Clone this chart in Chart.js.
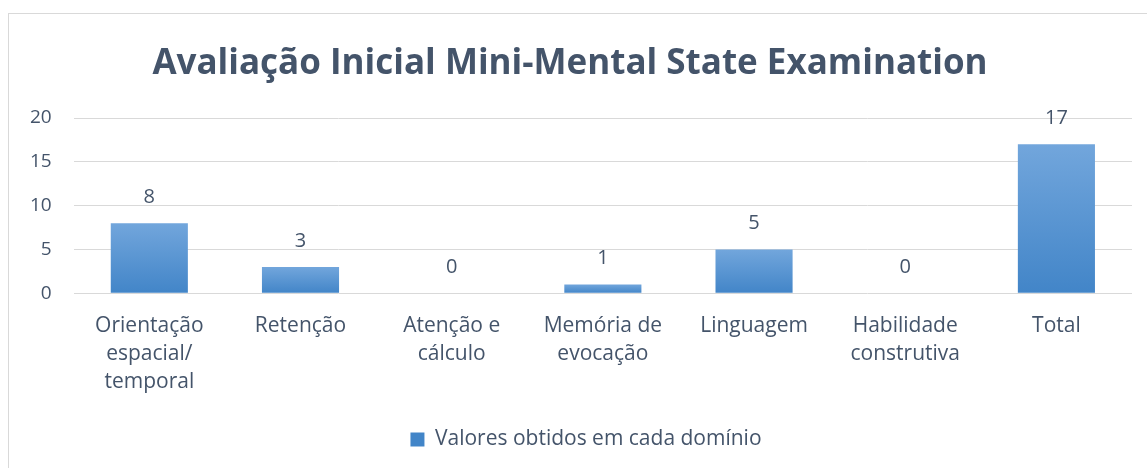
<!DOCTYPE html>
<html>
<head>
<meta charset="utf-8">
<script src="https://cdn.jsdelivr.net/npm/chart.js@4.4.0/dist/chart.umd.min.js"></script>
<style>
  html, body { margin: 0; padding: 0; background: #fff; overflow: hidden; }
  #frame { position: absolute; left: 8px; top: 13px; width: 1160px; height: 480px; border: 1px solid #D9D9D9; }
  #wrap { position: absolute; left: 0; top: 0; width: 1147px; height: 468px; }
</style>
</head>
<body>
<div id="frame"></div>
<div id="wrap"><canvas id="barchart"></canvas></div>
<script>
  // valores
  var categorias = [
    ["Orientação", "espacial/", "temporal"],
    "Retenção",
    ["Atenção e", "cálculo"],
    ["Memória de", "evocação"],
    "Linguagem",
    ["Habilidade", "construtiva"],
    "Total"
  ];
  var valores = [8, 3, 0, 1, 5, 0, 17];
  var yTicks = [0, 5, 10, 15, 20];
  var serieNome = "Valores obtidos em cada domínio";

  var corTexto = '#44546A';
  var fonte = "'Open Sans', sans-serif";

  function barFill(c) {
    if (c.type !== 'data') return '#5B9BD5';
    var chart = c.chart;
    if (!chart.chartArea) return '#5B9BD5';
    var y = chart.scales.y;
    var top = y.getPixelForValue(c.raw), bot = y.getPixelForValue(0);
    if (!(bot - top > 0)) return '#5B9BD5';
    var g = chart.ctx.createLinearGradient(0, top, 0, bot);
    g.addColorStop(0, '#72A6DC');
    g.addColorStop(1, '#4285C8');
    return g;
  }

  // rótulos de valor acima das barras
  var valorLabels = {
    id: 'valorLabels',
    afterDatasetsDraw: function (chart) {
      var ctx = chart.ctx;
      var meta = chart.getDatasetMeta(0);
      ctx.save();
      ctx.font = "20px " + fonte;
      ctx.fillStyle = corTexto;
      ctx.textAlign = 'center';
      ctx.textBaseline = 'middle';
      meta.data.forEach(function (bar, i) {
        ctx.fillText(String(valores[i]), bar.x, bar.y - 26);
      });
      ctx.restore();
    }
  };

  // legenda um pouco à direita, como no original
  var legendaShift = {
    id: 'legendaShift',
    afterLayout: function (chart) {
      if (chart.legend) {
        chart.legend.left += 16;
        chart.legend.right += 16;
      }
    }
  };

  var ctx = document.getElementById("barchart");
  var barchart = new Chart(ctx, {
    type: 'bar',
    data: {
      labels: categorias,
      datasets: [{
        label: serieNome,
        data: valores,
        backgroundColor: barFill,
        barPercentage: 0.51,
        categoryPercentage: 1
      }]
    },
    options: {
      responsive: true,
      maintainAspectRatio: false,
      animation: false,
      layout: { padding: { left: 8, right: 15, top: 0, bottom: 8 } },
      plugins: {
        title: {
          display: true,
          text: 'Avaliação Inicial Mini-Mental State Examination',
          color: corTexto,
          font: { family: fonte, size: 35, weight: 'bold' },
          padding: { top: 43, bottom: 33 }
        },
        legend: {
          position: 'bottom',
          labels: {
            color: corTexto,
            font: { family: fonte, size: 21 },
            boxWidth: 14,
            boxHeight: 14,
            padding: 22
          }
        },
        tooltip: { enabled: false }
      },
      scales: {
        x: {
          grid: { display: false },
          border: { display: false },
          ticks: {
            color: corTexto,
            font: { family: fonte, size: 21, lineHeight: 1.33 },
            maxRotation: 0,
            padding: 11
          }
        },
        y: {
          min: 0,
          max: 20,
          afterBuildTicks: function (axis) {
            axis.ticks = yTicks.map(function (v) { return { value: v }; });
          },
          grid: { color: '#D9D9D9', lineWidth: 1, drawTicks: false },
          border: { display: false },
          ticks: {
            color: corTexto,
            font: { family: fonte, size: 19 },
            padding: 22
          }
        }
      }
    },
    plugins: [valorLabels, legendaShift]
  });
</script>
</body>
</html>
